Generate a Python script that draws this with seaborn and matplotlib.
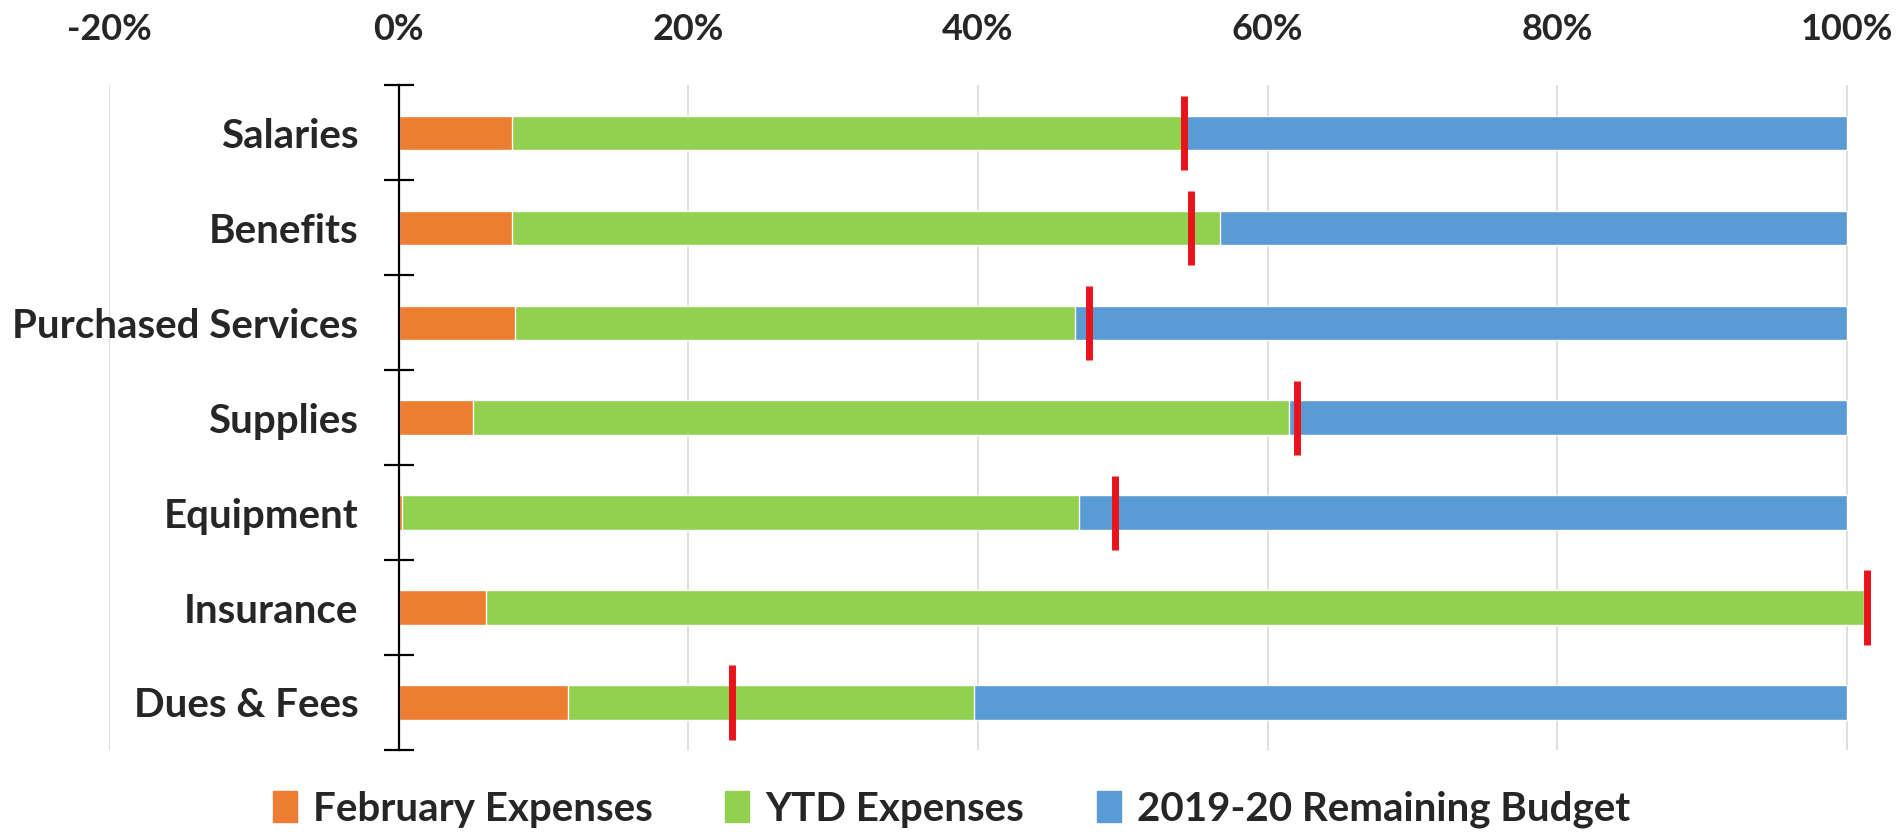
import matplotlib
matplotlib.use('Agg')
import matplotlib.pyplot as plt
import matplotlib.ticker as mtick
from matplotlib.patches import Patch
import seaborn as sns
import pandas as pd
import numpy as np

categories = ['Salaries', 'Benefits', 'Purchased Services', 'Supplies',
              'Equipment', 'Insurance', 'Dues & Fees']
feb_expenses = [0.078, 0.078, 0.080, 0.051, 0.002, 0.060, 0.117]
ytd_expenses = [0.543, 0.567, 0.467, 0.615, 0.470, 1.012, 0.397]
target_pct = [0.542, 0.547, 0.477, 0.620, 0.495, 1.014, 0.230]
budget_total = [1.0, 1.0, 1.0, 1.0, 1.0, 1.0, 1.0]
x_ticks = [-0.2, 0.0, 0.2, 0.4, 0.6, 0.8, 1.0]

orange = '#ED7D31'
green = '#92D050'
blue = '#5B9BD5'

df = pd.DataFrame({'category': categories, 'feb': feb_expenses,
                   'ytd': ytd_expenses, 'total': budget_total,
                   'target': target_pct})

sns.set_style('white')
plt.rcParams['font.family'] = ['Lato', 'DejaVu Sans']
plt.rcParams['font.weight'] = 'bold'
plt.rcParams['axes.unicode_minus'] = False

fig = plt.figure(figsize=(19.03, 8.32), dpi=100)
ax = fig.add_axes([0.0573, 0.0986, 0.936, 0.799])

# stacked look: draw totals first, then YTD, then February on top
sns.barplot(data=df, x='total', y='category', color=blue, width=0.36,
            orient='h', saturation=1, ax=ax, zorder=2)
sns.barplot(data=df, x='ytd', y='category', color=green, width=0.36,
            orient='h', saturation=1, ax=ax, zorder=3)
sns.barplot(data=df, x='feb', y='category', color=orange, width=0.36,
            orient='h', saturation=1, ax=ax, zorder=4)

ypos = np.arange(len(categories))
ax.vlines(df['target'], ypos - 0.39, ypos + 0.39, color='#E8131B',
          linewidth=5, zorder=5)

ax.set_xlim(-0.2, 1.03)
ax.set_ylim(len(categories) - 0.5, -0.5)
ax.set_xticks(x_ticks)
ax.xaxis.set_major_formatter(mtick.PercentFormatter(1.0, decimals=0))
ax.xaxis.tick_top()
ax.tick_params(axis='x', length=0, pad=28, labelsize=26)
ax.grid(axis='x', color='#D9D9D9', linewidth=1.2, zorder=0)
ax.set_axisbelow(True)

for s in ['top', 'right', 'bottom']:
    ax.spines[s].set_visible(False)
ax.spines['left'].set_position(('data', 0))
ax.spines['left'].set_color('black')
ax.spines['left'].set_linewidth(1.6)
ax.spines['left'].set_zorder(6)

ax.set_yticks(np.arange(-0.5, len(categories), 1.0), minor=True)
ax.tick_params(axis='y', which='minor', left=True, direction='inout',
               length=22, width=1.6, color='black')
ax.tick_params(axis='y', which='major', left=False, length=0, pad=29,
               labelsize=29)
ax.set_xlabel('')
ax.set_ylabel('')

handles = [Patch(color=orange, label='February Expenses'),
           Patch(color=green, label='YTD Expenses'),
           Patch(color=blue, label='2019-20 Remaining Budget')]
fig.legend(handles=handles, loc='center', bbox_to_anchor=(0.5, 0.027),
           ncol=3, frameon=False, fontsize=29, handlelength=0.6,
           handleheight=0.8, handletextpad=0.4, columnspacing=1.8)

fig.savefig('out.png', dpi=100)
